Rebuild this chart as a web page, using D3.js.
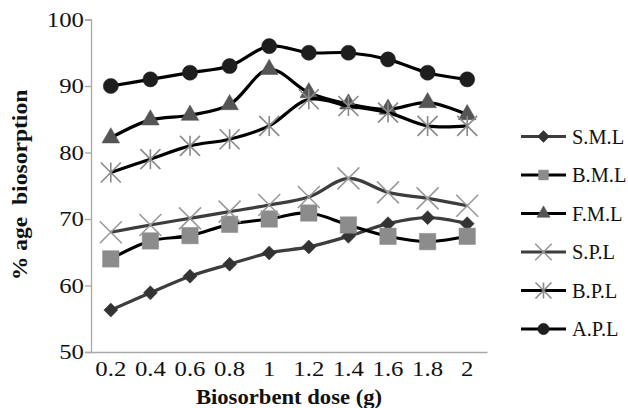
<!DOCTYPE html>
<html>
<head>
<meta charset="utf-8">
<script src="https://cdn.jsdelivr.net/npm/d3@7"></script>
<style>
  html, body { margin: 0; padding: 0; background: #fff; }
  svg { display: block; }
</style>
</head>
<body>
<svg id="chart" width="628" height="408"></svg>
<script>
// Biosorbent dose (g) categories
const doses = ["0.2", "0.4", "0.6", "0.8", "1", "1.2", "1.4", "1.6", "1.8", "2"];
const yTicks = [50, 60, 70, 80, 90, 100];

// % biosorption per series
const SML = [56.3, 58.9, 61.4, 63.2, 64.9, 65.8, 67.4, 69.3, 70.2, 69.3];
const BML = [64.0, 66.7, 67.5, 69.2, 70.0, 70.9, 69.1, 67.4, 66.6, 67.4];
const FML = [82.2, 84.9, 85.6, 87.2, 92.5, 89.0, 87.3, 86.5, 87.5, 85.7];
const SPL = [68.0, 69.1, 70.1, 71.1, 72.1, 73.3, 76.1, 74.0, 73.1, 72.0];
const BPL = [77.0, 79.0, 81.0, 82.0, 84.0, 88.0, 87.0, 86.0, 84.0, 84.0];
const APL = [90.0, 91.0, 92.0, 93.0, 96.0, 95.0, 95.0, 94.0, 92.0, 91.0];

const seriesNames = ["S.M.L", "B.M.L", "F.M.L", "S.P.L", "B.P.L", "A.P.L"];
const seriesValues = [SML, BML, FML, SPL, BPL, APL];

const styles = {
  "S.M.L": { line: "#3d3d3d", marker: "diamond",  fill: "#333333", size: 7 },
  "B.M.L": { line: "#000000", marker: "square",   fill: "#8c8c8c", size: 270 },
  "F.M.L": { line: "#000000", marker: "triangle", fill: "#555555", size: 135 },
  "S.P.L": { line: "#3d3d3d", marker: "cross",    fill: "#9a9a9a", size: 11 },
  "B.P.L": { line: "#000000", marker: "star",     fill: "#8a8a8a", size: 10 },
  "A.P.L": { line: "#000000", marker: "circle",   fill: "#1e1e1e", size: 180 }
};

const svg = d3.select("#chart");
const margin = { left: 91, right: 487, top: 19.5, bottom: 352 };

const x = d3.scaleBand().domain(doses).range([margin.left, margin.right]);
const y = d3.scaleLinear().domain([50, 100]).range([margin.bottom, margin.top]);
const cx = d => x(d) + x.bandwidth() / 2;

const serif = "'Liberation Serif', 'Times New Roman', serif";
const stretch = 1.18; // wide serif lettering

// Axes
const yAxis = d3.axisLeft(y).tickValues(yTicks).tickSize(6).tickPadding(0);
const gy = svg.append("g").attr("transform", `translate(${margin.left},0)`).call(yAxis);
gy.select(".domain").attr("stroke", "#a8a8a8").attr("stroke-width", 1.3);
gy.selectAll(".tick line").attr("stroke", "#a8a8a8").attr("stroke-width", 1.3);
gy.selectAll(".tick text").attr("font-family", serif).attr("font-size", 21)
  .attr("fill", "#111").attr("x", -7 / stretch)
  .attr("transform", `scale(${stretch},1)`);

const xAxis = d3.axisBottom(x).tickSize(0).tickPadding(9);
const gx = svg.append("g").attr("transform", `translate(0,${margin.bottom})`).call(xAxis);
gx.select(".domain").attr("stroke", "#a8a8a8").attr("stroke-width", 1.3);
gx.selectAll(".tick text").attr("font-family", serif).attr("font-size", 21).attr("fill", "#111")
  .attr("transform", `scale(${stretch},1)`);

// Axis titles
svg.append("text")
  .attr("transform", `translate(289,404) scale(${stretch * 0.96},1)`)
  .attr("text-anchor", "middle")
  .attr("font-family", serif).attr("font-weight", "bold").attr("font-size", 20)
  .attr("fill", "#111")
  .text("Biosorbent dose (g)");

svg.append("text")
  .attr("transform", `translate(27,185) rotate(-90) scale(${stretch},1)`)
  .attr("text-anchor", "middle")
  .attr("font-family", serif).attr("font-weight", "bold").attr("font-size", 20)
  .attr("fill", "#111")
  .attr("xml:space", "preserve")
  .text("% age  biosorption");

// Marker drawing
function drawMarker(g, kind, fill, size) {
  if (kind === "cross") {
    g.append("path").attr("d", `M${-size},${-size}L${size},${size}M${-size},${size}L${size},${-size}`)
      .attr("stroke", fill).attr("stroke-width", 1.6).attr("fill", "none");
  } else if (kind === "star") {
    g.append("path")
      .attr("d", `M${-size},${-size}L${size},${size}M${-size},${size}L${size},${-size}M0,${-size}L0,${size}`)
      .attr("stroke", fill).attr("stroke-width", 1.6).attr("fill", "none");
  } else if (kind === "diamond") {
    g.append("path").attr("d", `M0,${-size}L${size},0L0,${size}L${-size},0Z`)
      .attr("fill", fill).attr("stroke", fill).attr("stroke-width", 0.5);
  } else {
    const sym = { square: d3.symbolSquare, triangle: d3.symbolTriangle, circle: d3.symbolCircle }[kind];
    g.append("path").attr("d", d3.symbol(sym, size)()).attr("fill", fill)
      .attr("stroke", fill).attr("stroke-width", 0.5);
  }
}

const line = d3.line()
  .x((d, i) => cx(doses[i]))
  .y(d => y(d))
  .curve(d3.curveCatmullRom.alpha(0.5));

// Series lines and markers
seriesNames.forEach((name, si) => {
  const st = styles[name];
  const vals = seriesValues[si];
  const g = svg.append("g").attr("class", "series");
  g.append("path").datum(vals).attr("d", line)
    .attr("fill", "none").attr("stroke", st.line).attr("stroke-width", 3.2)
    .attr("stroke-linejoin", "round");
  vals.forEach((v, i) => {
    const mg = g.append("g").attr("transform", `translate(${cx(doses[i])},${y(v)})`);
    drawMarker(mg, st.marker, st.fill, st.size);
  });
});

// Legend
const legendScale = { diamond: 0.85, square: 0.6, triangle: 0.75, cross: 0.75, star: 0.8, circle: 0.75 };
const legend = svg.append("g").attr("class", "legend");
seriesNames.forEach((name, i) => {
  const st = styles[name];
  const ly = 136.5 + i * 38.5;
  const row = legend.append("g").attr("transform", `translate(0,${ly})`);
  row.append("line").attr("x1", 521).attr("x2", 566).attr("y1", 0).attr("y2", 0)
    .attr("stroke", st.line).attr("stroke-width", 3.2);
  const f = legendScale[st.marker];
  const mSize = (st.marker === "square" || st.marker === "triangle" || st.marker === "circle")
    ? st.size * f * f : st.size * f;
  const mg = row.append("g").attr("transform", "translate(543.5,0)");
  drawMarker(mg, st.marker, st.fill, mSize);
  row.append("text").attr("transform", "translate(572,7) scale(1.02,1)")
    .attr("font-family", serif).attr("font-size", 20).attr("fill", "#111")
    .text(name);
});
</script>
</body>
</html>
